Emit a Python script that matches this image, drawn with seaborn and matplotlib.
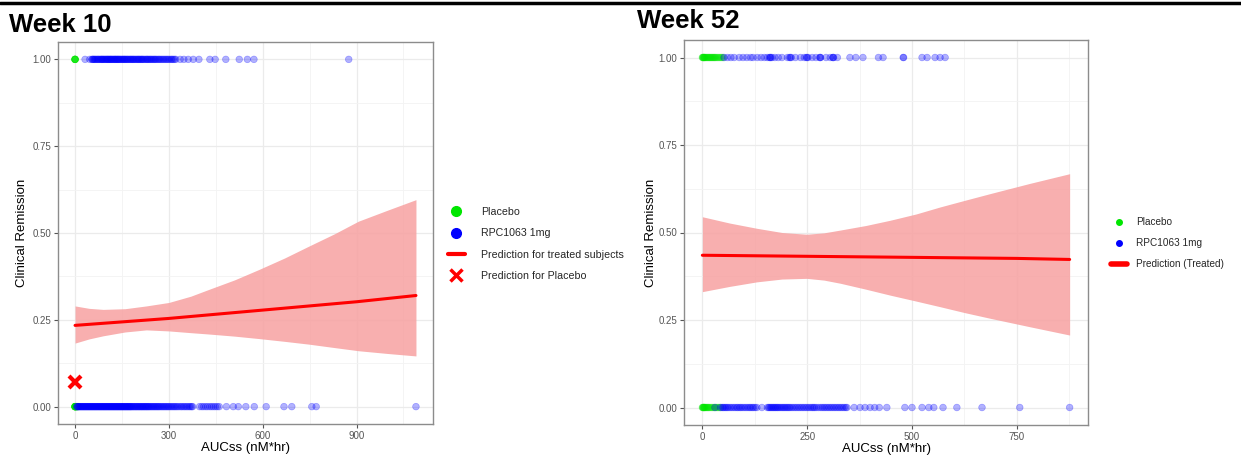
#!/usr/bin/env python3

import seaborn as sns
import matplotlib.pyplot as plt
import pandas as pd
from matplotlib.lines import Line2D
from matplotlib.ticker import MultipleLocator

# ---- Week 10 data ----
w10_placebo_rem = [0, 0, 0, 0, 0, 0]
w10_placebo_non = [0, 0, 0, 0, 0, 0, 0, 0, 1, 2, 3, 4, 5, 6, 8, 10]
w10_treat_rem = [32, 47, 54, 56, 58, 61, 63, 66, 69, 72, 74, 77, 80, 83, 85, 87,
                 89, 92, 94, 97, 99, 102, 104, 106, 108, 111, 113, 115, 117, 120,
                 122, 125, 127, 129, 131, 134, 136, 138, 140, 143, 145, 148, 151,
                 153, 156, 158, 160, 163, 166, 168, 171, 174, 177, 179, 182, 185,
                 187, 190, 193, 196, 199, 202, 204, 207, 210, 213, 215, 218, 221,
                 225, 228, 231, 233, 237, 240, 243, 246, 250, 253, 256, 259, 263,
                 267, 270, 274, 278, 282, 286, 290, 294, 298, 302, 307, 310, 314,
                 318, 322, 336, 348, 362, 378, 396, 431, 448, 482, 525, 551, 572,
                 875]
w10_treat_non = [5, 7, 9, 11, 13, 15, 17, 19, 21, 23, 25, 27, 29, 31, 33, 35, 37,
                 39, 41, 43, 45, 47, 49, 51, 53, 55, 57, 59, 61, 63, 65, 67, 69,
                 71, 73, 75, 77, 79, 81, 83, 85, 87, 89, 91, 93, 95, 97, 99, 101,
                 103, 105, 107, 109, 111, 113, 115, 117, 119, 121, 123, 125, 127,
                 129, 131, 133, 135, 137, 139, 141, 143, 145, 147, 149, 151, 153,
                 155, 157, 159, 161, 163, 165, 167, 169, 171, 173, 175, 177, 179,
                 181, 184, 186, 189, 191, 194, 196, 199, 201, 204, 206, 209, 211,
                 214, 216, 219, 221, 224, 226, 229, 231, 234, 236, 239, 242, 245,
                 248, 251, 254, 257, 260, 263, 266, 269, 272, 276, 279, 283, 286,
                 290, 293, 297, 300, 304, 308, 312, 316, 320, 324, 328, 333, 338,
                 342, 347, 351, 356, 360, 365, 369, 373, 376, 398, 405, 411, 418,
                 424, 431, 437, 443, 449, 455, 461, 484, 506, 522, 546, 573, 611,
                 668, 693, 757, 771, 1090]
w10_fit_x = [0, 300, 600, 900, 1090]
w10_fit_y = [0.234, 0.254, 0.278, 0.302, 0.320]
w10_band_x = [0, 45, 90, 160, 228, 300, 370, 429, 510, 588, 670, 747, 830, 906,
              1000, 1090]
w10_band_lo = [0.183, 0.195, 0.204, 0.215, 0.221, 0.218, 0.213, 0.209, 0.203,
               0.196, 0.188, 0.180, 0.170, 0.161, 0.153, 0.146]
w10_band_hi = [0.290, 0.283, 0.280, 0.282, 0.290, 0.300, 0.318, 0.338, 0.365,
               0.395, 0.428, 0.462, 0.498, 0.534, 0.566, 0.596]
w10_placebo_pred = (0, 0.07)

# ---- Week 52 data ----
w52_placebo_rem = [0, 1, 2, 3, 4, 5, 6, 8, 10, 12, 14, 16, 18, 20, 22, 24, 26,
                   28, 30, 32, 35, 38, 41, 44, 47, 50]
w52_placebo_non = [0, 1, 2, 3, 4, 5, 6, 8, 10, 12, 14, 16, 19, 22, 25, 28, 31,
                   34, 37, 40, 43]
w52_treat_rem = [52, 60, 68, 76, 88, 97, 106, 115, 121, 131, 140, 148, 155, 160,
                 162, 163, 166, 173, 181, 190, 203, 208, 210, 212, 222, 234, 243,
                 248, 250, 252, 262, 271, 280, 281, 282, 295, 305, 311, 312, 313,
                 322, 352, 366, 383, 420, 431, 479, 480, 524, 536, 555, 567, 579]
w52_treat_non = [30, 44, 48, 50, 53, 56, 59, 62, 66, 70, 74, 78, 82, 85, 89, 92,
                 96, 100, 104, 108, 112, 115, 119, 122, 126, 130, 142, 155, 158,
                 160, 163, 165, 168, 170, 173, 175, 178, 180, 183, 186, 189, 192,
                 195, 198, 201, 204, 207, 210, 214, 218, 222, 226, 230, 234, 238,
                 242, 246, 250, 254, 258, 262, 265, 268, 272, 277, 282, 286, 290,
                 294, 298, 302, 306, 310, 314, 318, 322, 326, 330, 334, 338, 342,
                 345, 362, 376, 388, 400, 411, 422, 440, 483, 500, 524, 540, 552,
                 574, 607, 667, 757, 876]
w52_fit_x = [0, 250, 500, 750, 876]
w52_fit_y = [0.435, 0.432, 0.429, 0.426, 0.423]
w52_band_x = [0, 65, 130, 190, 249, 290, 329, 390, 448, 510, 567, 626, 686, 780,
              876]
w52_band_lo = [0.331, 0.346, 0.359, 0.367, 0.369, 0.364, 0.355, 0.338, 0.321,
               0.304, 0.288, 0.271, 0.255, 0.231, 0.207]
w52_band_hi = [0.545, 0.527, 0.512, 0.500, 0.495, 0.499, 0.507, 0.520, 0.535,
               0.553, 0.573, 0.592, 0.611, 0.640, 0.668]

GREEN = "#00e600"
BLUE = "#0000ff"
W, H = 1241, 455


def points_frame(plac_rem, plac_non, trt_rem, trt_non):
    rows = []
    for v in plac_rem:
        rows.append(("Placebo", v, 1.0))
    for v in plac_non:
        rows.append(("Placebo", v, 0.0))
    for v in trt_rem:
        rows.append(("RPC1063 1mg", v, 1.0))
    for v in trt_non:
        rows.append(("RPC1063 1mg", v, 0.0))
    return pd.DataFrame(rows, columns=["group", "auc", "remission"])


def style_axes(ax, xmajor, xlim, ypad):
    ax.set_xlim(*xlim)
    ax.set_ylim(-0.05, 1.05)
    ax.xaxis.set_major_locator(MultipleLocator(xmajor))
    ax.xaxis.set_minor_locator(MultipleLocator(xmajor / 2))
    ax.yaxis.set_major_locator(MultipleLocator(0.25))
    ax.yaxis.set_minor_locator(MultipleLocator(0.125))
    ax.yaxis.set_major_formatter(lambda v, p: f"{v:.2f}")
    ax.grid(which="major", color="#ebebeb", lw=0.9)
    ax.grid(which="minor", color="#f3f3f3", lw=0.6)
    ax.set_axisbelow(True)
    for s in ax.spines.values():
        s.set_color("#8c8c8c")
        s.set_linewidth(1.0)
    ax.tick_params(which="major", length=3, width=0.8, color="#555555",
                   labelsize=7, labelcolor="#555555", pad=2, left=True, bottom=True)
    ax.tick_params(which="minor", length=0)
    ax.set_xlabel("AUCss (nM*hr)", fontsize=9.5, labelpad=1, color="black")
    ax.set_ylabel("Clinical Remission", fontsize=9.5, labelpad=ypad, color="black")


def draw_panel(ax, df, fit_x, fit_y, band_x, band_lo, band_hi):
    ax.fill_between(band_x, band_lo, band_hi, color="#f7a1a1", lw=0, alpha=0.85)
    sns.scatterplot(data=df, x="auc", y="remission", hue="group",
                    palette={"Placebo": GREEN, "RPC1063 1mg": BLUE},
                    alpha=0.3, s=23, edgecolor="face", linewidth=0.5,
                    legend=False, ax=ax)
    sns.lineplot(x=fit_x, y=fit_y, color="red", lw=2.2, ax=ax)


sns.set_style("white")
plt.rcParams["font.family"] = ["Liberation Sans", "DejaVu Sans"]

fig = plt.figure(figsize=(W / 100, H / 100), dpi=100)
ax1 = fig.add_axes([58 / W, 1 - 424 / H, (433 - 58) / W, (424 - 42) / H])
ax2 = fig.add_axes([684 / W, 1 - 425 / H, (1088 - 684) / W, (425 - 40) / H])

# Week 10
df10 = points_frame(w10_placebo_rem, w10_placebo_non, w10_treat_rem, w10_treat_non)
draw_panel(ax1, df10, w10_fit_x, w10_fit_y, w10_band_x, w10_band_lo, w10_band_hi)
ax1.plot(*w10_placebo_pred, marker="x", color="red", ms=8, mew=3, ls="")
style_axes(ax1, 300, (-54.5, 1144.5), 3)

# Week 52
df52 = points_frame(w52_placebo_rem, w52_placebo_non, w52_treat_rem, w52_treat_non)
draw_panel(ax2, df52, w52_fit_x, w52_fit_y, w52_band_x, w52_band_lo, w52_band_hi)
style_axes(ax2, 250, (-43.8, 919.8), 1)

# legends
h10 = [Line2D([], [], marker="o", color=GREEN, ls="", ms=7),
       Line2D([], [], marker="o", color=BLUE, ls="", ms=7),
       Line2D([], [], color="red", lw=3),
       Line2D([], [], marker="x", color="red", ls="", ms=8, mew=2.5)]
fig.legend(h10, ["Placebo", "RPC1063 1mg", "Prediction for treated subjects",
                 "Prediction for Placebo"],
           loc="center left", bbox_to_anchor=(438 / W, 1 - 244 / H),
           frameon=False, fontsize=7.7, handlelength=1.6, handletextpad=1.5,
           labelspacing=1.05)

h52 = [Line2D([], [], marker="o", color=GREEN, ls="", ms=4),
       Line2D([], [], marker="o", color=BLUE, ls="", ms=4),
       Line2D([], [], color="red", lw=4)]
fig.legend(h52, ["Placebo", "RPC1063 1mg", "Prediction (Treated)"],
           loc="center left", bbox_to_anchor=(1102 / W, 1 - 243 / H),
           frameon=False, fontsize=7.2, handlelength=1.6, handletextpad=0.9,
           labelspacing=1.1)

# titles and header rule
fig.text(9 / W, 1 - 25 / H, "Week 10", fontsize=18.5, fontweight="bold",
         va="center", color="black")
fig.text(637 / W, 1 - 21 / H, "Week 52", fontsize=18.5, fontweight="bold",
         va="center", color="black")
fig.add_artist(Line2D([0, 1], [1 - 3 / H, 1 - 3 / H], color="black", lw=2.5,
                      transform=fig.transFigure))

fig.savefig("out.png", dpi=100)
